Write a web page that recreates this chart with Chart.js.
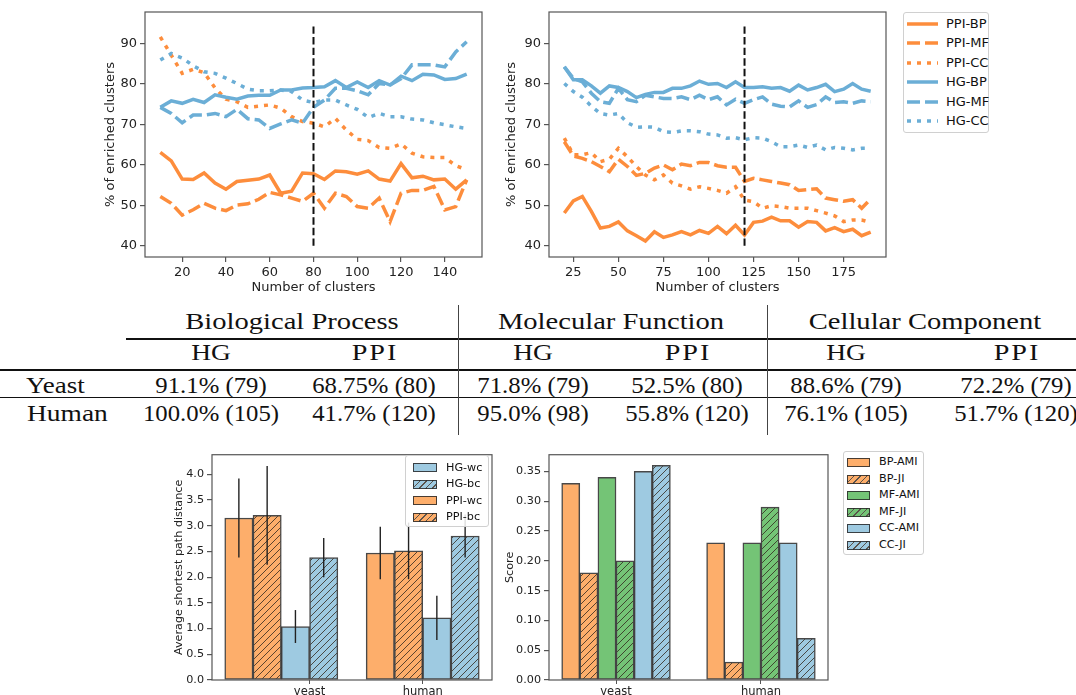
<!DOCTYPE html>
<html>
<head>
<meta charset="utf-8">
<script src="https://cdn.jsdelivr.net/npm/chart.js@4.4.1/dist/chart.umd.min.js"></script>
<style>
  html, body { margin: 0; padding: 0; background: #fff; }
  body { width: 1076px; height: 695px; position: relative; overflow: hidden; font-family: "DejaVu Sans", sans-serif; color: #111; }
  canvas { position: absolute; display: block; }
  .cell { position: absolute; font-family: "Liberation Serif", serif; font-size: 22.5px; line-height: 1; white-space: nowrap; color: #111; }
  .rule { position: absolute; background: #111; }
  .vrule { position: absolute; background: #444; width: 1px; }
  .legend { position: absolute; background: rgba(255,255,255,0.85); border: 1px solid #d0d0d0; border-radius: 3px; box-sizing: border-box; }
  .legend .row { position: absolute; white-space: nowrap; line-height: 1; }
  .legend svg, .legend .sw { position: absolute; }
  .legend .sw { box-sizing: border-box; border: 1.3px solid rgba(40,40,40,0.85); }
</style>
</head>
<body>
<canvas id="lineLeft" width="395" height="300" style="left:95px;top:0px"></canvas>
<canvas id="lineRight" width="390" height="300" style="left:500px;top:0px"></canvas>
<canvas id="barLeft" width="335" height="265" style="left:160px;top:445px"></canvas>
<canvas id="barRight" width="340" height="265" style="left:495px;top:445px"></canvas>
<div id="tbl"></div>
<div id="legTop" class="legend" style="left:903px;top:12px;width:86px;height:121px"></div>
<div id="legBL" class="legend" style="left:405px;top:455px;width:84px;height:72px"></div>
<div id="legBR" class="legend" style="left:843px;top:451px;width:81px;height:104px"></div>
<script>
// ---- top line charts ----
const leftClusters = [10, 15, 20, 25, 30, 35, 40, 45, 50, 55, 60, 65, 70, 75, 80, 85, 90, 95, 100, 105, 110, 115, 120, 125, 130, 135, 140, 145, 150]
const leftPpiBP = [63.1, 61.0, 56.5, 56.4, 58.0, 55.5, 54.0, 55.9, 56.2, 56.5, 57.5, 53.0, 53.5, 58.0, 57.8, 56.4, 58.5, 58.3, 57.7, 58.5, 56.5, 56.0, 60.3, 56.8, 57.2, 56.3, 56.5, 54.0, 56.3]
const leftPpiMF = [52.2, 50.5, 47.6, 48.9, 50.5, 49.3, 48.7, 50.1, 50.4, 51.5, 53.2, 52.6, 51.8, 51.0, 53.0, 49.3, 53.0, 52.2, 49.7, 49.3, 51.8, 46.0, 53.0, 53.7, 53.7, 54.7, 48.9, 49.7, 56.3]
const leftPpiCC = [91.6, 87.1, 82.6, 83.6, 82.8, 79.0, 76.2, 75.6, 74.2, 74.5, 74.8, 74.0, 71.9, 70.7, 70.3, 69.4, 71.5, 68.6, 66.3, 66.0, 64.3, 64.1, 65.2, 62.9, 62.0, 61.8, 61.8, 59.8, 58.8]
const leftHgBP = [74.2, 75.8, 75.2, 76.2, 75.4, 77.3, 76.7, 76.2, 77.0, 77.2, 77.2, 78.5, 78.5, 79.0, 79.1, 79.3, 80.8, 79.1, 80.5, 79.1, 80.8, 79.7, 81.9, 80.8, 82.4, 82.2, 81.1, 81.3, 82.4]
const leftHgMF = [74.2, 72.7, 70.4, 72.3, 72.3, 72.7, 71.9, 73.7, 71.4, 71.1, 69.0, 70.1, 71.1, 70.3, 74.2, 76.0, 78.9, 78.9, 78.3, 77.3, 80.1, 79.7, 81.3, 84.7, 84.7, 84.7, 84.2, 87.9, 90.4]
const leftHgCC = [85.9, 87.5, 86.4, 84.5, 83.0, 82.6, 81.4, 80.1, 78.7, 78.3, 78.3, 78.5, 78.1, 76.0, 75.4, 76.0, 76.0, 74.8, 73.7, 71.7, 72.7, 71.9, 71.9, 71.3, 71.1, 70.4, 69.9, 69.4, 69.0]
const leftCut = 80

const rightClusters = [20, 25, 30, 35, 40, 45, 50, 55, 60, 65, 70, 75, 80, 85, 90, 95, 100, 105, 110, 115, 120, 125, 130, 135, 140, 145, 150, 155, 160, 165, 170, 175, 180, 185, 190]
const rightPpiBP = [48.1, 51.1, 52.2, 48.5, 44.4, 44.8, 45.9, 43.7, 42.5, 41.2, 43.5, 42.1, 42.7, 43.5, 42.7, 43.8, 43.1, 44.8, 43.0, 45.1, 42.7, 45.8, 46.1, 47.1, 46.2, 46.2, 44.6, 46.0, 45.8, 43.7, 44.5, 43.5, 44.1, 42.5, 43.4]
const rightPpiMF = [65.7, 62.2, 61.6, 60.8, 59.6, 58.3, 61.4, 59.6, 57.4, 57.9, 59.2, 60.0, 58.8, 60.2, 59.8, 60.6, 60.6, 59.8, 59.4, 59.4, 55.9, 56.7, 56.3, 55.9, 55.5, 55.1, 53.7, 53.9, 54.1, 51.8, 51.4, 51.0, 51.4, 49.3, 51.6]
const rightPpiCC = [66.6, 62.5, 62.5, 63.0, 60.8, 61.4, 64.1, 62.0, 59.6, 57.5, 56.3, 57.5, 55.5, 54.8, 54.0, 54.6, 54.2, 53.7, 53.0, 54.6, 51.3, 50.9, 49.3, 49.9, 49.7, 49.3, 49.3, 49.3, 48.7, 48.1, 47.4, 46.0, 46.4, 46.4, 45.8]
const rightHgBP = [84.2, 81.0, 81.0, 79.5, 77.7, 79.5, 79.1, 78.1, 76.6, 77.4, 77.9, 77.9, 78.9, 78.9, 79.5, 80.7, 79.9, 80.1, 79.1, 80.5, 79.1, 79.1, 79.3, 78.9, 79.1, 78.2, 79.7, 78.5, 79.1, 79.9, 78.1, 78.7, 80.1, 78.7, 78.2]
const rightHgMF = [84.2, 81.4, 80.5, 77.7, 75.6, 75.2, 78.9, 76.1, 75.6, 77.2, 76.8, 76.4, 76.4, 76.8, 76.1, 77.2, 76.1, 76.8, 74.8, 76.2, 75.2, 76.1, 76.8, 75.0, 74.5, 74.3, 75.8, 74.2, 74.9, 76.8, 75.4, 75.6, 75.2, 75.8, 75.6]
const rightHgCC = [80.1, 78.1, 76.7, 74.5, 72.7, 72.3, 72.7, 70.4, 69.3, 69.4, 69.3, 68.2, 68.0, 68.4, 68.4, 68.2, 67.6, 67.4, 66.6, 66.7, 66.2, 66.7, 66.6, 65.7, 64.5, 64.5, 64.9, 64.3, 64.9, 63.7, 64.3, 64.1, 63.7, 64.1, 64.1]
const rightCut = 120

const cutRange = [40, 95]
const lineYTicks = [40, 50, 60, 70, 80, 90]
const leftXTicks = [20, 40, 60, 80, 100, 120, 140]
const rightXTicks = [25, 50, 75, 100, 125, 150, 175]
const seriesNames = ["PPI-BP", "PPI-MF", "PPI-CC", "HG-BP", "HG-MF", "HG-CC"]

// ---- table ----
const goGroups = ["Biological Process", "Molecular Function", "Cellular Component"]
const methods = ["HG", "PPI"]
const organisms = ["Yeast", "Human"]
const yeastCells = ["91.1% (79)", "68.75% (80)", "71.8% (79)", "52.5% (80)", "88.6% (79)", "72.2% (79)"]
const humanCells = ["100.0% (105)", "41.7% (120)", "95.0% (98)", "55.8% (120)", "76.1% (105)", "51.7% (120)"]

// ---- bottom bar charts ----
const barCats = ["yeast", "human"]
const pathNames = ["HG-wc", "HG-bc", "PPI-wc", "PPI-bc"]
const hgWc = [1.04, 1.21]
const hgBc = [2.38, 2.80]
const ppiWc = [3.15, 2.47]
const ppiBc = [3.20, 2.51]
const hgWcErr = [0.32, 0.43]
const hgBcErr = [0.38, 0.42]
const ppiWcErr = [0.77, 0.51]
const ppiBcErr = [0.96, 0.55]
const pathTicks = [0, 0.5, 1.0, 1.5, 2.0, 2.5, 3.0, 3.5, 4.0]

const scoreNames = ["BP-AMI", "BP-JI", "MF-AMI", "MF-JI", "CC-AMI", "CC-JI"]
const bpAmi = [0.33, 0.23]
const bpJi = [0.18, 0.03]
const mfAmi = [0.34, 0.23]
const mfJi = [0.20, 0.29]
const ccAmi = [0.35, 0.23]
const ccJi = [0.36, 0.07]
const scoreTicks = [0, 0.05, 0.10, 0.15, 0.20, 0.25, 0.30, 0.35]

// ---- styling ----
const ORANGE = "#fd8d3c"
const BLUE = "#6baed6"
const BAR_ORANGE = "#fdae6b"
const BAR_BLUE = "#9ecae1"
const BAR_GREEN = "#74c476"
const EDGE = "rgba(40,40,40,0.85)"
const SPINE = "#555"
const DASH = [13, 5]
const DOT = [4, 6]

Chart.defaults.font.family = "'DejaVu Sans', sans-serif"
Chart.defaults.color = "#222"
Chart.defaults.animation = false

var framePlugin = {
  id: "frame",
  afterDatasetsDraw: function (chart) {
    var a = chart.chartArea
    var ctx = chart.ctx
    ctx.save()
    ctx.strokeStyle = SPINE
    ctx.lineWidth = 1.2
    ctx.strokeRect(a.left, a.top, a.right - a.left, a.bottom - a.top)
    ctx.restore()
  },
}

var errorBarPlugin = {
  id: "errbars",
  afterDatasetsDraw: function (chart) {
    var ctx = chart.ctx
    var yScale = chart.scales.y
    ctx.save()
    ctx.strokeStyle = "#222"
    ctx.lineWidth = 1.4
    chart.data.datasets.forEach(function (ds, di) {
      if (!ds.errors) return
      chart.getDatasetMeta(di).data.forEach(function (bar, i) {
        var v = ds.data[i].y
        ctx.beginPath()
        ctx.moveTo(bar.x, yScale.getPixelForValue(v - ds.errors[i]))
        ctx.lineTo(bar.x, yScale.getPixelForValue(v + ds.errors[i]))
        ctx.stroke()
      })
    })
    ctx.restore()
  },
}

function fixedTicks(values) {
  return function (scale) {
    scale.ticks = values.map(function (v) { return { value: v } })
  }
}

function axisGrid() {
  return { display: true, drawOnChartArea: false, drawTicks: true, tickLength: 5, color: SPINE, lineWidth: 1.2 }
}

function lineChart(id, xs, series, cut, xr, xTicks, opts) {
  var styles = [
    { color: ORANGE, dash: [] }, { color: ORANGE, dash: DASH }, { color: ORANGE, dash: DOT },
    { color: BLUE, dash: [] }, { color: BLUE, dash: DASH }, { color: BLUE, dash: DOT },
  ]
  var datasets = series.map(function (vals, k) {
    return {
      label: seriesNames[k],
      data: vals.map(function (v, i) { return { x: xs[i], y: v } }),
      borderColor: styles[k].color,
      borderDash: styles[k].dash,
      borderWidth: 3.5,
      pointRadius: 0,
      tension: 0,
      fill: false,
      order: 10 - k,
    }
  })
  datasets.push({
    label: "cut",
    data: [{ x: cut, y: cutRange[0] }, { x: cut, y: cutRange[1] }],
    borderColor: "#111",
    borderDash: [7.4, 3.2],
    borderWidth: 2,
    pointRadius: 0,
    order: 0,
  })
  return new Chart(document.getElementById(id), {
    type: "line",
    data: { datasets: datasets },
    options: {
      responsive: false,
      devicePixelRatio: 1,
      layout: { padding: { top: 12, right: opts.right, left: 0, bottom: 0 } },
      plugins: { legend: { display: false }, tooltip: { enabled: false } },
      scales: {
        x: {
          type: "linear", min: xr[0], max: xr[1],
          afterBuildTicks: fixedTicks(xTicks),
          afterFit: function (s) { s.height = 43 },
          grid: axisGrid(), border: { display: false },
          ticks: { font: { size: 13 }, padding: 3, maxRotation: 0 },
          title: { display: true, text: "Number of clusters", font: { size: 13 }, padding: { top: 0, bottom: 5 } },
        },
        y: {
          min: 37.25, max: 97.75,
          afterBuildTicks: fixedTicks(lineYTicks),
          afterFit: function (s) { s.width = opts.axisW },
          grid: axisGrid(), border: { display: false },
          ticks: { font: { size: 13 }, padding: 3 },
          title: { display: true, text: "% of enriched clusters", font: { size: 13 }, padding: { top: opts.titlePad, bottom: 0 } },
        },
      },
    },
    plugins: [framePlugin],
  })
}

lineChart("lineLeft", leftClusters, [leftPpiBP, leftPpiMF, leftPpiCC, leftHgBP, leftHgMF, leftHgCC], leftCut, [3, 157], leftXTicks, { right: 8, axisW: 50, titlePad: 8 })
lineChart("lineRight", rightClusters, [rightPpiBP, rightPpiMF, rightPpiCC, rightHgBP, rightHgMF, rightHgCC], rightCut, [11.5, 198.5], rightXTicks, { right: 4, axisW: 49, titlePad: 4 })

// top legend
;(function () {
  var leg = document.getElementById("legTop")
  var dashes = ["", "13,5", "4,6", "", "13,5", "4,6"]
  var colors = [ORANGE, ORANGE, ORANGE, BLUE, BLUE, BLUE]
  seriesNames.forEach(function (name, i) {
    var y = 10.5 + i * 19.5
    var svg = document.createElementNS("http://www.w3.org/2000/svg", "svg")
    svg.setAttribute("width", "31"); svg.setAttribute("height", "8")
    svg.style.left = "3px"; svg.style.top = (y - 4) + "px"
    var ln = document.createElementNS("http://www.w3.org/2000/svg", "line")
    ln.setAttribute("x1", "0"); ln.setAttribute("x2", "31"); ln.setAttribute("y1", "4"); ln.setAttribute("y2", "4")
    ln.setAttribute("stroke", colors[i]); ln.setAttribute("stroke-width", "3.5")
    if (dashes[i]) ln.setAttribute("stroke-dasharray", dashes[i])
    svg.appendChild(ln)
    leg.appendChild(svg)
    var t = document.createElement("div")
    t.className = "row"; t.style.fontSize = "13px"
    t.style.left = "42px"; t.style.top = (y - 7) + "px"
    t.textContent = name
    leg.appendChild(t)
  })
})()

// ---- table ----
;(function () {
  var tbl = document.getElementById("tbl")
  var colX = [211, 374, 533, 687, 846, 1016]
  var groupX = [292, 611, 925]
  function text(str, x, base, sx, left, spacing) {
    var d = document.createElement("div")
    d.className = "cell"
    d.textContent = str
    d.style.left = x + "px"
    d.style.top = (base - 19) + "px"
    if (spacing) d.style.letterSpacing = spacing + "px"
    if (left) {
      d.style.transformOrigin = "left center"
      d.style.transform = "scaleX(" + sx + ")"
    } else {
      d.style.transform = "translateX(-50%) scaleX(" + sx + ")"
    }
    tbl.appendChild(d)
  }
  function rule(x, y, w, h, cls) {
    var d = document.createElement("div")
    d.className = cls || "rule"
    d.style.left = x + "px"; d.style.top = y + "px"
    d.style.width = w + "px"; d.style.height = h + "px"
    tbl.appendChild(d)
  }
  goGroups.forEach(function (g, i) { text(g, groupX[i], 330, 1.27) })
  colX.forEach(function (x, i) {
    if (i % 2) text(methods[1], x + 1, 361, 1.25, false, 1.5)
    else text(methods[0], x, 361, 1.22)
  })
  text(organisms[0], 26, 394, 1.2, true)
  text(organisms[1], 27, 422, 1.22, true)
  yeastCells.forEach(function (c, i) { text(c, colX[i], 394, 1.1) })
  humanCells.forEach(function (c, i) { text(c, colX[i], 422, 1.1) })
  rule(126, 338, 950, 1.5)
  rule(0, 369, 1076, 2)
  rule(0, 397, 1076, 1)
  rule(458, 305, 1, 130, "vrule")
  rule(767, 305, 1, 130, "vrule")
})()

// ---- bar charts ----
function hatch(color) {
  var c = document.createElement("canvas")
  c.width = 7; c.height = 7
  var g = c.getContext("2d")
  g.fillStyle = color
  g.fillRect(0, 0, 7, 7)
  g.strokeStyle = "rgba(50,40,30,0.8)"
  g.lineWidth = 1
  g.beginPath()
  g.moveTo(-1, 8); g.lineTo(8, -1)
  g.moveTo(-1, 1); g.lineTo(1, -1)
  g.moveTo(6, 8); g.lineTo(8, 6)
  g.stroke()
  return g.createPattern(c, "repeat")
}

function barDataset(label, vals, errs, starts, slot, fill) {
  return {
    label: label,
    data: vals.map(function (v, i) { return { x: starts[i] + slot + 0.5, y: v } }),
    errors: errs,
    backgroundColor: fill,
    borderColor: EDGE,
    borderWidth: 1.5,
    borderSkipped: false,
    grouped: false,
    barPercentage: 1,
    categoryPercentage: 1,
  }
}

function barChart(id, datasets, xr, catTicks, yMax, yTicks, digits, ytitle, o) {
  return new Chart(document.getElementById(id), {
    type: "bar",
    data: { datasets: datasets },
    options: {
      responsive: false,
      devicePixelRatio: 1,
      layout: { padding: { top: 7, right: o.right, left: 0, bottom: 0 } },
      plugins: { legend: { display: false }, tooltip: { enabled: false } },
      scales: {
        x: {
          type: "linear", min: xr[0], max: xr[1], offset: false,
          afterBuildTicks: fixedTicks(catTicks),
          afterFit: function (s) { s.height = 30 },
          grid: { display: true, drawOnChartArea: false, drawTicks: true, tickLength: 4, color: SPINE, offset: false },
          border: { display: false },
          ticks: { font: { size: 11.5 }, padding: 1, maxRotation: 0, callback: function (v, i) { return barCats[i] } },
        },
        y: {
          min: 0, max: yMax,
          afterBuildTicks: fixedTicks(yTicks),
          afterFit: function (s) { s.width = o.axisW },
          grid: axisGrid(), border: { display: false },
          ticks: { font: { size: 11.2 }, padding: 3, callback: function (v) { return v.toFixed(digits) } },
          title: { display: true, text: ytitle, font: { size: 11.2 }, padding: { top: o.titlePad, bottom: 0 } },
        },
      },
    },
    plugins: [framePlugin, errorBarPlugin],
  })
}

var pathStarts = [0, 5]
barChart("barLeft", [
  barDataset("PPI-wc", ppiWc, ppiWcErr, pathStarts, 0, BAR_ORANGE),
  barDataset("PPI-bc", ppiBc, ppiBcErr, pathStarts, 1, hatch(BAR_ORANGE)),
  barDataset("HG-wc", hgWc, hgWcErr, pathStarts, 2, BAR_BLUE),
  barDataset("HG-bc", hgBc, hgBcErr, pathStarts, 3, hatch(BAR_BLUE)),
], [-0.45, 9.45], [3, 7], 4.38, pathTicks, 1, "Average shortest path distance", { right: 3, axisW: 52, titlePad: 12 })

var scoreStarts = [0, 8]
barChart("barRight", [
  barDataset("BP-AMI", bpAmi, null, scoreStarts, 0, BAR_ORANGE),
  barDataset("BP-JI", bpJi, null, scoreStarts, 1, hatch(BAR_ORANGE)),
  barDataset("MF-AMI", mfAmi, null, scoreStarts, 2, BAR_GREEN),
  barDataset("MF-JI", mfJi, null, scoreStarts, 3, hatch(BAR_GREEN)),
  barDataset("CC-AMI", ccAmi, null, scoreStarts, 4, BAR_BLUE),
  barDataset("CC-JI", ccJi, null, scoreStarts, 5, hatch(BAR_BLUE)),
], [-0.7, 14.7], [3, 11], 0.378, scoreTicks, 2, "Score", { right: 7, axisW: 54, titlePad: 8 })

// bar legends
function swatchBg(color, hatched) {
  if (!hatched) return color
  return "repeating-linear-gradient(135deg, " + color + " 0 3.6px, rgba(50,40,30,0.8) 3.6px 4.6px)"
}
function barLegend(id, names, colors, hatched, rowY, swX, swW, txtX) {
  var leg = document.getElementById(id)
  names.forEach(function (name, i) {
    var sw = document.createElement("div")
    sw.className = "sw"
    sw.style.left = swX + "px"; sw.style.top = (rowY[i] - 4.5) + "px"
    sw.style.width = swW + "px"; sw.style.height = "9px"
    sw.style.background = swatchBg(colors[i], hatched[i])
    leg.appendChild(sw)
    var t = document.createElement("div")
    t.className = "row"; t.style.fontSize = "11.2px"
    t.style.left = txtX + "px"; t.style.top = (rowY[i] - 6) + "px"
    t.textContent = name
    leg.appendChild(t)
  })
}
barLegend("legBL", pathNames, [BAR_BLUE, BAR_BLUE, BAR_ORANGE, BAR_ORANGE], [false, true, false, true],
  [11.5, 28, 44.5, 61], 7, 24, 40)
barLegend("legBR", scoreNames, [BAR_ORANGE, BAR_ORANGE, BAR_GREEN, BAR_GREEN, BAR_BLUE, BAR_BLUE], [false, true, false, true, false, true],
  [10, 27, 43, 60, 76, 93], 3, 23, 35)
</script>
</body>
</html>
